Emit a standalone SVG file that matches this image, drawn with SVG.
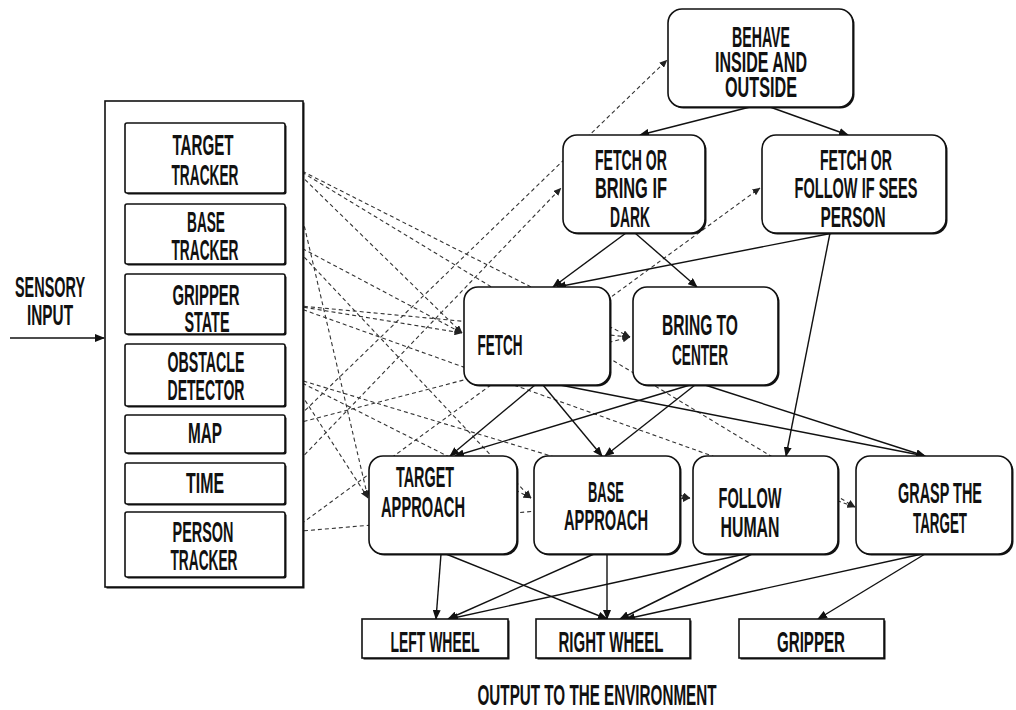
<svg xmlns="http://www.w3.org/2000/svg" width="1016" height="710" viewBox="0 0 1016 710">
<style>
  .t{font-family:"Liberation Sans",Arial,sans-serif;font-weight:bold;font-size:30px;fill:#111;text-anchor:middle}
  .box{fill:#fff;stroke:#111;stroke-width:1.6}
  .sh{fill:#111}
  .solid{fill:none;stroke:#111;stroke-width:1.4}
  .dash{fill:none;stroke:#333;stroke-width:1.1;stroke-dasharray:4 3}
</style>
<defs>
  <marker id="ah" markerWidth="10" markerHeight="8" refX="9" refY="4" orient="auto" markerUnits="userSpaceOnUse">
    <path d="M0,0 L10,4 L0,8 Z" fill="#111"/>
  </marker>
  <marker id="ahd" markerWidth="8" markerHeight="7" refX="7.5" refY="3.5" orient="auto" markerUnits="userSpaceOnUse">
    <path d="M0,0 L8,3.5 L0,7 Z" fill="#222"/>
  </marker>
</defs>
<rect width="1016" height="710" fill="#fff"/>

<g id="connectors">
  <g id="dashed">
    <line class="dash" x1="290" y1="165" x2="462" y2="333" marker-end="url(#ahd)"/>
    <line class="dash" x1="290" y1="165" x2="630" y2="337" marker-end="url(#ahd)"/>
    <line class="dash" x1="290" y1="165" x2="855" y2="507" marker-end="url(#ahd)"/>
    <line class="dash" x1="290" y1="165" x2="368" y2="498" marker-end="url(#ahd)"/>
    <line class="dash" x1="290" y1="242" x2="462" y2="333" marker-end="url(#ahd)"/>
    <line class="dash" x1="290" y1="242" x2="531" y2="498" marker-end="url(#ahd)"/>
    <line class="dash" x1="290" y1="305" x2="462" y2="333" marker-end="url(#ahd)"/>
    <line class="dash" x1="290" y1="305" x2="630" y2="337" marker-end="url(#ahd)"/>
    <line class="dash" x1="290" y1="305" x2="855" y2="507" marker-end="url(#ahd)"/>
    <line class="dash" x1="290" y1="377" x2="368" y2="498" marker-end="url(#ahd)"/>
    <line class="dash" x1="290" y1="377" x2="531" y2="498" marker-end="url(#ahd)"/>
    <line class="dash" x1="290" y1="377" x2="690" y2="498" marker-end="url(#ahd)"/>
    <line class="dash" x1="290" y1="425" x2="667" y2="60" marker-end="url(#ahd)"/>
    <line class="dash" x1="290" y1="425" x2="630" y2="337" marker-end="url(#ahd)"/>
    <line class="dash" x1="290" y1="470" x2="561" y2="188" marker-end="url(#ahd)"/>
    <line class="dash" x1="290" y1="532" x2="760" y2="188" marker-end="url(#ahd)"/>
    <line class="dash" x1="290" y1="532" x2="690" y2="498" marker-end="url(#ahd)"/>
  </g>
  <g id="solid">
    <line class="solid" x1="10" y1="338" x2="104" y2="338" marker-end="url(#ah)"/>
    <line class="solid" x1="750" y1="107" x2="640" y2="135" marker-end="url(#ah)"/>
    <line class="solid" x1="770" y1="107" x2="848" y2="135" marker-end="url(#ah)"/>
    <line class="solid" x1="626" y1="233" x2="553" y2="287" marker-end="url(#ah)"/>
    <line class="solid" x1="635" y1="233" x2="697" y2="287" marker-end="url(#ah)"/>
    <line class="solid" x1="833" y1="233" x2="557" y2="287" marker-end="url(#ah)"/>
    <line class="solid" x1="830" y1="233" x2="786" y2="456" marker-end="url(#ah)"/>
    <line class="solid" x1="535" y1="385" x2="450" y2="456" marker-end="url(#ah)"/>
    <line class="solid" x1="543" y1="385" x2="602" y2="456" marker-end="url(#ah)"/>
    <line class="solid" x1="560" y1="385" x2="925" y2="456" marker-end="url(#ah)"/>
    <line class="solid" x1="690" y1="385" x2="455" y2="456" marker-end="url(#ah)"/>
    <line class="solid" x1="695" y1="385" x2="605" y2="456" marker-end="url(#ah)"/>
    <line class="solid" x1="705" y1="385" x2="925" y2="456" marker-end="url(#ah)"/>
    <line class="solid" x1="441" y1="554" x2="436" y2="619" marker-end="url(#ah)"/>
    <line class="solid" x1="446" y1="554" x2="607" y2="619" marker-end="url(#ah)"/>
    <line class="solid" x1="594" y1="554" x2="448" y2="619" marker-end="url(#ah)"/>
    <line class="solid" x1="607" y1="554" x2="607" y2="619" marker-end="url(#ah)"/>
    <line class="solid" x1="745" y1="554" x2="449" y2="619" marker-end="url(#ah)"/>
    <line class="solid" x1="752" y1="554" x2="620" y2="619" marker-end="url(#ah)"/>
    <line class="solid" x1="922" y1="554" x2="626" y2="619" marker-end="url(#ah)"/>
    <line class="solid" x1="925" y1="554" x2="818" y2="619" marker-end="url(#ah)"/>
  </g>
</g>

<g id="sensory-input-label">
  <text class="t" transform="translate(50,297) scale(0.45,1)" textLength="155.6" lengthAdjust="spacingAndGlyphs">SENSORY</text>
  <text class="t" transform="translate(50,325) scale(0.45,1)" textLength="102.2" lengthAdjust="spacingAndGlyphs">INPUT</text>
</g>

<g id="sensors">
  <rect class="sh" x="106.5" y="102.5" width="198" height="486"/>
  <rect x="105" y="101" width="198" height="486" fill="#fff" stroke="#111" stroke-width="1.6"/>
  <g id="target-tracker">
    <rect class="sh" x="126.5" y="124.5" width="160" height="70" rx="2"/>
    <rect class="box" x="125" y="123" width="160" height="70" rx="2"/>
    <text class="t" transform="translate(203,155) scale(0.45,1)" textLength="135.6" lengthAdjust="spacingAndGlyphs">TARGET</text>
    <text class="t" transform="translate(205,185) scale(0.45,1)" textLength="148.9" lengthAdjust="spacingAndGlyphs">TRACKER</text>
  </g>
  <g id="base-tracker">
    <rect class="sh" x="126.5" y="205.5" width="160" height="60" rx="2"/>
    <rect class="box" x="125" y="204" width="160" height="60" rx="2"/>
    <text class="t" transform="translate(206,232) scale(0.45,1)" textLength="84.4" lengthAdjust="spacingAndGlyphs">BASE</text>
    <text class="t" transform="translate(205,260) scale(0.45,1)" textLength="148.9" lengthAdjust="spacingAndGlyphs">TRACKER</text>
  </g>
  <g id="gripper-state">
    <rect class="sh" x="126.5" y="275.5" width="160" height="60" rx="2"/>
    <rect class="box" x="125" y="274" width="160" height="60" rx="2"/>
    <text class="t" transform="translate(206,305) scale(0.45,1)" textLength="148.9" lengthAdjust="spacingAndGlyphs">GRIPPER</text>
    <text class="t" transform="translate(207,332) scale(0.45,1)" textLength="100" lengthAdjust="spacingAndGlyphs">STATE</text>
  </g>
  <g id="obstacle-detector">
    <rect class="sh" x="126.5" y="345.5" width="160" height="62" rx="2"/>
    <rect class="box" x="125" y="344" width="160" height="62" rx="2"/>
    <text class="t" transform="translate(206,372) scale(0.45,1)" textLength="171.1" lengthAdjust="spacingAndGlyphs">OBSTACLE</text>
    <text class="t" transform="translate(206,400) scale(0.45,1)" textLength="171.1" lengthAdjust="spacingAndGlyphs">DETECTOR</text>
  </g>
  <g id="map">
    <rect class="sh" x="126.5" y="416.5" width="160" height="38" rx="2"/>
    <rect class="box" x="125" y="415" width="160" height="38" rx="2"/>
    <text class="t" transform="translate(205,443) scale(0.45,1)" textLength="75.6" lengthAdjust="spacingAndGlyphs">MAP</text>
  </g>
  <g id="time">
    <rect class="sh" x="126.5" y="464.5" width="160" height="41" rx="2"/>
    <rect class="box" x="125" y="463" width="160" height="41" rx="2"/>
    <text class="t" transform="translate(205,493) scale(0.45,1)" textLength="84.4" lengthAdjust="spacingAndGlyphs">TIME</text>
  </g>
  <g id="person-tracker">
    <rect class="sh" x="126.5" y="513.5" width="160" height="65" rx="2"/>
    <rect class="box" x="125" y="512" width="160" height="65" rx="2"/>
    <text class="t" transform="translate(203,542) scale(0.45,1)" textLength="135.6" lengthAdjust="spacingAndGlyphs">PERSON</text>
    <text class="t" transform="translate(204,570) scale(0.45,1)" textLength="148.9" lengthAdjust="spacingAndGlyphs">TRACKER</text>
  </g>
</g>

<g id="behave">
  <rect class="sh" x="669.5" y="10.5" width="185" height="98" rx="14"/>
  <rect class="box" x="668" y="9" width="185" height="98" rx="14"/>
  <text class="t" transform="translate(761,47) scale(0.45,1)" textLength="128.9" lengthAdjust="spacingAndGlyphs">BEHAVE</text>
  <text class="t" transform="translate(761,72) scale(0.45,1)" textLength="204.4" lengthAdjust="spacingAndGlyphs">INSIDE AND</text>
  <text class="t" transform="translate(761,97) scale(0.45,1)" textLength="160" lengthAdjust="spacingAndGlyphs">OUTSIDE</text>
</g>
<g id="fetch-or-bring">
  <rect class="sh" x="564.5" y="136.5" width="142" height="98" rx="14"/>
  <rect class="box" x="563" y="135" width="142" height="98" rx="14"/>
  <text class="t" transform="translate(631,170) scale(0.45,1)" textLength="160" lengthAdjust="spacingAndGlyphs">FETCH OR</text>
  <text class="t" transform="translate(631,198) scale(0.45,1)" textLength="160" lengthAdjust="spacingAndGlyphs">BRING IF</text>
  <text class="t" transform="translate(630,227) scale(0.45,1)" textLength="88.9" lengthAdjust="spacingAndGlyphs">DARK</text>
</g>
<g id="fetch-or-follow">
  <rect class="sh" x="763.5" y="136.5" width="184" height="98" rx="14"/>
  <rect class="box" x="762" y="135" width="184" height="98" rx="14"/>
  <text class="t" transform="translate(856,170) scale(0.45,1)" textLength="160" lengthAdjust="spacingAndGlyphs">FETCH OR</text>
  <text class="t" transform="translate(856,198) scale(0.45,1)" textLength="273.3" lengthAdjust="spacingAndGlyphs">FOLLOW IF SEES</text>
  <text class="t" transform="translate(853,227) scale(0.45,1)" textLength="144.4" lengthAdjust="spacingAndGlyphs">PERSON</text>
</g>
<g id="fetch">
  <rect class="sh" x="465.5" y="288.5" width="146" height="98" rx="14"/>
  <rect class="box" x="464" y="287" width="146" height="98" rx="14"/>
  <text class="t" transform="translate(500,355) scale(0.45,1)" textLength="100" lengthAdjust="spacingAndGlyphs">FETCH</text>
</g>
<g id="bring-to-center">
  <rect class="sh" x="634.5" y="288.5" width="145" height="98" rx="14"/>
  <rect class="box" x="633" y="287" width="145" height="98" rx="14"/>
  <text class="t" transform="translate(700,335) scale(0.45,1)" textLength="168.9" lengthAdjust="spacingAndGlyphs">BRING TO</text>
  <text class="t" transform="translate(700,365) scale(0.45,1)" textLength="124.4" lengthAdjust="spacingAndGlyphs">CENTER</text>
</g>
<g id="target-approach">
  <rect class="sh" x="370.5" y="457.5" width="148" height="98" rx="14"/>
  <rect class="box" x="369" y="456" width="148" height="98" rx="14"/>
  <text class="t" transform="translate(425,487) scale(0.45,1)" textLength="128.9" lengthAdjust="spacingAndGlyphs">TARGET</text>
  <text class="t" transform="translate(423,517) scale(0.45,1)" textLength="186.7" lengthAdjust="spacingAndGlyphs">APPROACH</text>
</g>
<g id="base-approach">
  <rect class="sh" x="535.5" y="457.5" width="146" height="98" rx="14"/>
  <rect class="box" x="534" y="456" width="146" height="98" rx="14"/>
  <text class="t" transform="translate(606,502) scale(0.45,1)" textLength="80" lengthAdjust="spacingAndGlyphs">BASE</text>
  <text class="t" transform="translate(606,530) scale(0.45,1)" textLength="186.7" lengthAdjust="spacingAndGlyphs">APPROACH</text>
</g>
<g id="follow-human">
  <rect class="sh" x="694.5" y="457.5" width="145" height="98" rx="14"/>
  <rect class="box" x="693" y="456" width="145" height="98" rx="14"/>
  <text class="t" transform="translate(750,508) scale(0.45,1)" textLength="140" lengthAdjust="spacingAndGlyphs">FOLLOW</text>
  <text class="t" transform="translate(750,537) scale(0.45,1)" textLength="131.1" lengthAdjust="spacingAndGlyphs">HUMAN</text>
</g>
<g id="grasp-the-target">
  <rect class="sh" x="857.5" y="457.5" width="156" height="98" rx="14"/>
  <rect class="box" x="856" y="456" width="156" height="98" rx="14"/>
  <text class="t" transform="translate(940,503) scale(0.45,1)" textLength="186.7" lengthAdjust="spacingAndGlyphs">GRASP THE</text>
  <text class="t" transform="translate(940,533) scale(0.45,1)" textLength="120" lengthAdjust="spacingAndGlyphs">TARGET</text>
</g>
<g id="left-wheel">
  <rect class="sh" x="363.5" y="620.5" width="146" height="39"/>
  <rect class="box" x="362" y="619" width="146" height="39"/>
  <text class="t" transform="translate(435,652) scale(0.45,1)" textLength="197.8" lengthAdjust="spacingAndGlyphs">LEFT WHEEL</text>
</g>
<g id="right-wheel">
  <rect class="sh" x="537.5" y="620.5" width="154" height="39"/>
  <rect class="box" x="536" y="619" width="154" height="39"/>
  <text class="t" transform="translate(611,652) scale(0.45,1)" textLength="233.3" lengthAdjust="spacingAndGlyphs">RIGHT WHEEL</text>
</g>
<g id="gripper">
  <rect class="sh" x="740.5" y="620.5" width="145" height="39"/>
  <rect class="box" x="739" y="619" width="145" height="39"/>
  <text class="t" transform="translate(811,652) scale(0.45,1)" textLength="151.1" lengthAdjust="spacingAndGlyphs">GRIPPER</text>
</g>
<g id="output-label">
  <text class="t" transform="translate(597,705) scale(0.45,1)" textLength="531.1" lengthAdjust="spacingAndGlyphs">OUTPUT TO THE ENVIRONMENT</text>
</g>
</svg>
